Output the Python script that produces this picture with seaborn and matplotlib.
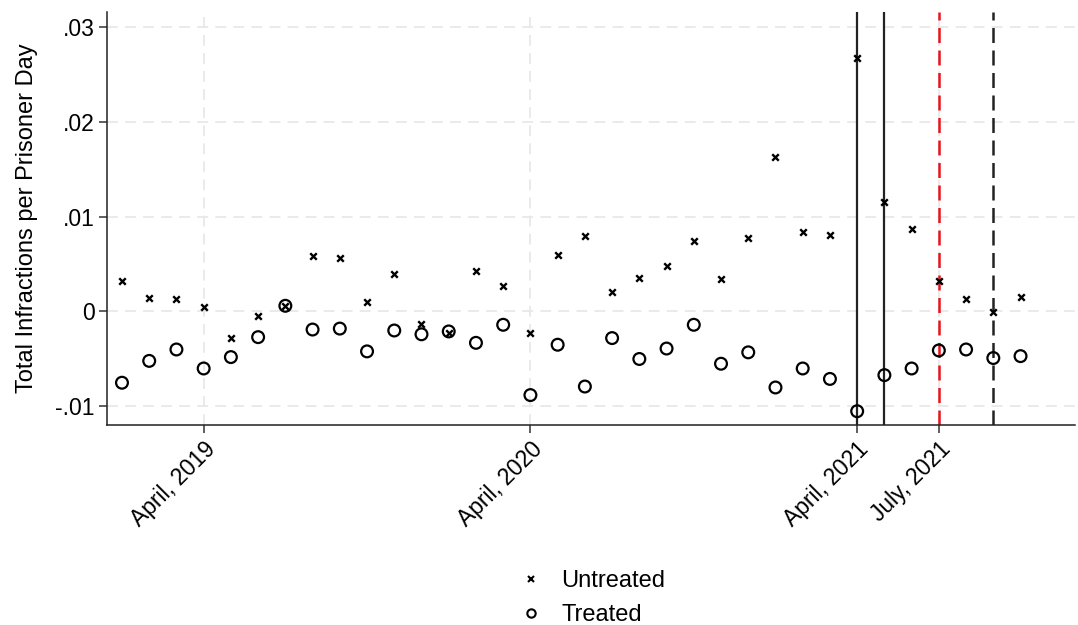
import numpy as np
import pandas as pd
import matplotlib
matplotlib.use("Agg")
import matplotlib.pyplot as plt
from matplotlib.lines import Line2D
import seaborn as sns

months = ["2019-01", "2019-02", "2019-03", "2019-04", "2019-05", "2019-06",
          "2019-07", "2019-08", "2019-09", "2019-10", "2019-11", "2019-12",
          "2020-01", "2020-02", "2020-03", "2020-04", "2020-05", "2020-06",
          "2020-07", "2020-08", "2020-09", "2020-10", "2020-11", "2020-12",
          "2021-01", "2021-02", "2021-03", "2021-04", "2021-05", "2021-06",
          "2021-07", "2021-08", "2021-09", "2021-10"]

untreated = [0.0032, 0.0014, 0.0013, 0.0005, -0.0028, -0.0005,
             0.0006, 0.0058, 0.0056, 0.0010, 0.0039, -0.0013,
             -0.0023, 0.0043, 0.0027, -0.0023, 0.0059, 0.0080,
             0.0021, 0.0035, 0.0048, 0.0074, 0.0034, 0.0077,
             0.0163, 0.0084, 0.0081, 0.0267, 0.0115, 0.0087,
             0.0032, 0.0013, -0.0001, 0.0015]

treated = [-0.0075, -0.0052, -0.0040, -0.0060, -0.0048, -0.0027,
           0.0006, -0.0019, -0.0018, -0.0042, -0.0020, -0.0024,
           -0.0021, -0.0033, -0.0014, -0.0088, -0.0035, -0.0079,
           -0.0028, -0.0050, -0.0039, -0.0014, -0.0055, -0.0043,
           -0.0080, -0.0060, -0.0071, -0.0105, -0.0067, -0.0060,
           -0.0041, -0.0040, -0.0049, -0.0047]

tick_months = ["2019-04", "2020-04", "2021-04", "2021-07"]
tick_labels = ["April, 2019", "April, 2020", "April, 2021", "July, 2021"]

yticks = [-0.01, 0, 0.01, 0.02, 0.03]
ytick_labels = ["-.01", "0", ".01", ".02", ".03"]

solid_lines = ["2021-04", "2021-05"]
red_dashed = ["2021-07"]
black_dashed = ["2021-09"]

ylabel = "Total Infractions per Prisoner Day"
legend_labels = ["Untreated", "Treated"]

# ---------------------------------------------------------------
sns.set_style("white")
plt.rcParams['font.family'] = ['Liberation Sans', 'DejaVu Sans']
plt.rcParams['text.color'] = 'black'
plt.rcParams['axes.labelcolor'] = 'black'
plt.rcParams['xtick.color'] = 'black'
plt.rcParams['ytick.color'] = 'black'

idx = {m: i for i, m in enumerate(months)}
df = pd.DataFrame({"month": months, "t": np.arange(len(months)),
                   "untreated": untreated, "treated": treated})

fig = plt.figure(figsize=(10.78, 6.25), dpi=100)
ax = fig.add_axes([107/1078, 1 - 425/625, (1075 - 107)/1078, (425 - 12)/625])

grid_kw = dict(color="#e8e8e8", linestyle=(0, (6, 4)), linewidth=1.3, zorder=0)
for yv in yticks:
    ax.axhline(yv, **grid_kw)
for m in tick_months:
    ax.axvline(idx[m], **grid_kw)

for m in solid_lines:
    ax.axvline(idx[m], color="#222222", linewidth=1.6, zorder=1)
for m in red_dashed:
    ax.axvline(idx[m], color="#e8141c", linewidth=1.8, linestyle=(0, (6, 3)), zorder=1)
for m in black_dashed:
    ax.axvline(idx[m], color="#222222", linewidth=1.8, linestyle=(0, (6, 3)), zorder=1)

sns.scatterplot(data=df, x="t", y="untreated", marker="x", color="black",
                s=22, linewidth=1.7, ax=ax, zorder=3)
sns.scatterplot(data=df, x="t", y="treated", marker="o", facecolor="none",
                edgecolor="black", s=72, linewidth=1.6, ax=ax, zorder=3)

ax.set_xlim(-0.55, 35.0)
ax.set_ylim(-0.01195, 0.03153)

ax.set_xticks([idx[m] for m in tick_months])
ax.set_xticklabels(tick_labels, rotation=45, ha="right", rotation_mode="anchor",
                   fontsize=16.5)
ax.set_yticks(yticks)
ax.set_yticklabels(ytick_labels, fontsize=16.5)
ax.tick_params(axis="both", direction="out", length=6, width=1.1, color="#333333",
               bottom=True, left=True, pad=3)
ax.set_xlabel("")
ax.set_ylabel(ylabel, fontsize=17, labelpad=12)

for s in ["top", "right"]:
    ax.spines[s].set_visible(False)
for s in ["left", "bottom"]:
    ax.spines[s].set_color("#222222")
    ax.spines[s].set_linewidth(1.1)

handles = [
    Line2D([], [], marker="x", color="black", linestyle="none", markersize=5,
           markeredgewidth=1.5),
    Line2D([], [], marker="o", markerfacecolor="none", markeredgecolor="black",
           linestyle="none", markersize=6, markeredgewidth=1.5),
]
fig.legend(handles, legend_labels, loc="upper center",
           bbox_to_anchor=(592/1078, 1 - 549/625), frameon=False, fontsize=17,
           handlelength=1.0, handletextpad=0.8, labelspacing=0.5)

fig.savefig("out.png", dpi=100)
